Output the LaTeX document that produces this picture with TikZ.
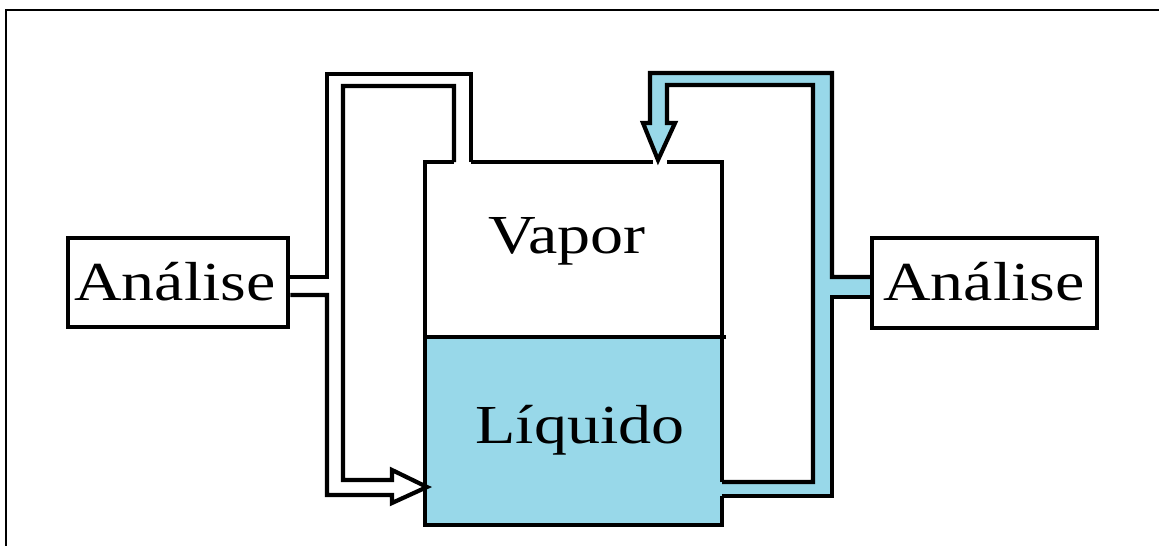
\documentclass[tikz,border=0pt]{standalone}
\usepackage{fontspec}
\usetikzlibrary{calc}
\setmainfont{Liberation Serif}
\definecolor{liq}{RGB}{152,216,233}
\tikzset{
  boxnode/.style={draw=black, line width=4.5pt, minimum width=#1, inner sep=0pt},
  lbl/.style={anchor=base, inner sep=0pt, font=\fontsize{55}{60}\selectfont},
  pipeline/.style={draw=black, line width=4.2pt, line join=miter, line cap=butt},
  tankline/.style={draw=black, line width=3.5pt, line join=miter}
}
\newcommand{\wide}[1]{\scalebox{1.2}[1]{#1}}
\begin{document}
\begin{tikzpicture}[x=1pt,y=-1pt]
\useasboundingbox (0,0) rectangle (1159,546);
% frame
\draw[line width=2pt] (6,546) -- (6,10) -- (1159,10);

% tank corners
\coordinate (tTL) at (425,162);
\coordinate (tTR) at (722,162);
\coordinate (tML) at (425,337);
\coordinate (tMR) at (722,337);
\coordinate (tBL) at (425,525);
\coordinate (tBR) at (722,525);

% liquid fill
\fill[liq] (tML) rectangle (tBR);

% right pipe (blue) fill
\fill[liq] (722,496) -- (832,496) -- (832,297) -- (872,297) -- (872,277) -- (832,277)
  -- (832,73) -- (650,73) -- (650,123) -- (643,123) -- (658,160) -- (675,123) -- (667,123)
  -- (667,85) -- (813,85) -- (813,482) -- (722,482) -- cycle;

% tank outline
\draw[tankline] (454,162) -- (tTL) -- (tBL) -- (tBR) -- (722,496);
\draw[tankline] (722,482) -- (tTR) -- (667,162);
\draw[tankline] (653,162) -- (471,162);
\draw[tankline] (tML) -- ($(tMR)+(4,0)$);

% boxes
\node[boxnode=220, minimum height=89] (la) at (178,282.5) {};
\node[boxnode=225, minimum height=90] (ra) at (984.5,283) {};

% left pipe (white)
\draw[pipeline] (471,162) -- (471,74) -- (327,74) -- (327,277) -- (la.east |- 0,277);
\draw[pipeline] (la.east |- 0,295) -- (327,295) -- (327,495) -- (392,495) -- (392,503)
  -- (427,487) -- (392,470) -- (392,480) -- (343,480) -- (343,86) -- (454,86) -- (454,162);

% right pipe outlines
\draw[pipeline] (722,496) -- (832,496) -- (832,297) -- (ra.west |- 0,297);
\draw[pipeline] (ra.west |- 0,277) -- (832,277) -- (832,73) -- (650,73) -- (650,123)
  -- (643,123) -- (658,160) -- (675,123) -- (667,123) -- (667,85) -- (813,85) -- (813,482) -- (722,482);

% labels
\node[lbl] (vapor) at (567,253) {\wide{Vapor}};
\node[lbl] (liquido) at (580,443) {\wide{Líquido}};
\node[lbl] (latext) at (175,300) {\wide{Análise}};
\node[lbl] (ratext) at (984,300) {\wide{Análise}};
\end{tikzpicture}
\end{document}
